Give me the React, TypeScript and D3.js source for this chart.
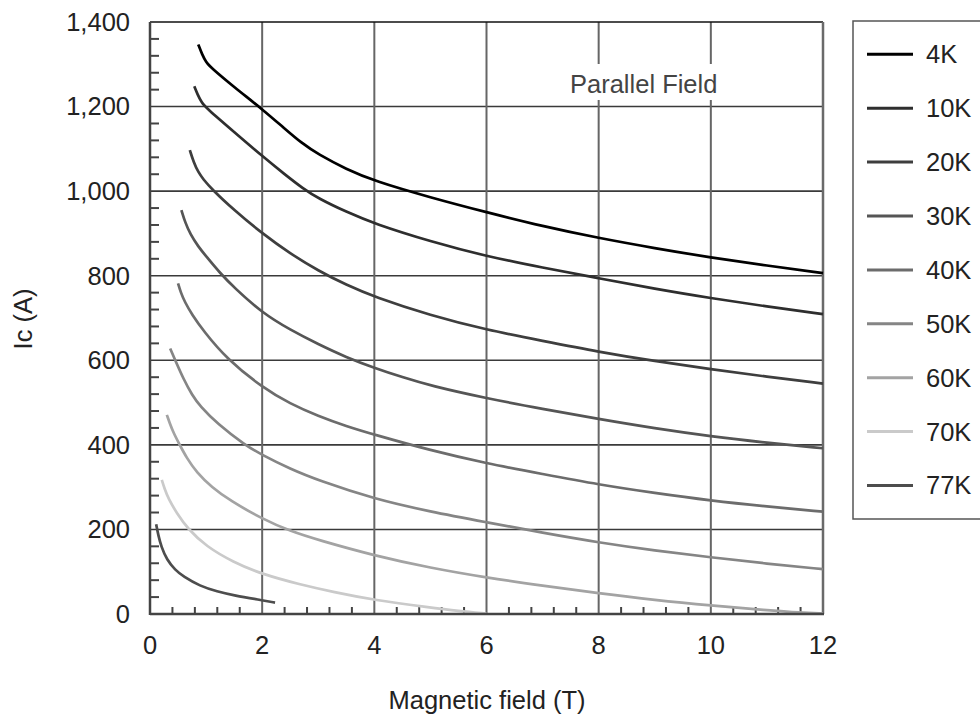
import React from "react";
import * as d3 from "d3";

const seriesNames = ["4K", "10K", "20K", "30K", "40K", "50K", "60K", "70K", "77K"];
const seriesColors = ["#000000", "#2e2e2e", "#3e3e3e", "#555555", "#6c6c6c", "#858585", "#a3a3a3", "#cacaca", "#4d4d4d"];

const s4K: [number, number][] = [[0.86, 1347], [0.93, 1323], [1.0, 1305], [1.08, 1293], [1.5, 1246], [2, 1194], [2.4, 1148], [2.7, 1114], [3, 1087], [3.5, 1052], [4, 1024], [5, 985], [6, 950], [7, 917], [8, 889], [9, 865], [10, 843], [11, 824], [12, 806]];
const s10K: [number, number][] = [[0.79, 1248], [0.85, 1228], [0.92, 1210], [1.0, 1197], [1.5, 1140], [2, 1083], [2.4, 1040], [2.73, 1006], [3, 983], [3.5, 951], [4, 923], [5, 881], [6, 846], [7, 819], [8, 794], [9, 769], [10, 747], [11, 727], [12, 709]];
const s20K: [number, number][] = [[0.71, 1097], [0.78, 1068], [0.86, 1045], [0.95, 1028], [1.1, 1005], [1.5, 955], [2, 900], [2.5, 852], [3, 812], [3.5, 778], [4, 750], [5, 706], [6, 672], [7, 646], [8, 620], [9, 598], [10, 579], [11, 561], [12, 545]];
const s30K: [number, number][] = [[0.56, 955], [0.63, 925], [0.72, 898], [0.86, 869], [1.0, 846], [1.25, 806], [1.5, 772], [2, 712], [2.5, 672], [3, 638], [3.5, 607], [4, 582], [4.5, 560], [5, 540], [6, 510], [7, 485], [8, 461], [9, 439], [10, 420], [11, 405], [12, 392]];
const s40K: [number, number][] = [[0.5, 782], [0.55, 760], [0.62, 738], [0.75, 708], [0.95, 670], [1.37, 603], [2, 536], [2.5, 497], [3, 468], [3.5, 444], [4, 424], [5, 387], [6, 356], [7, 331], [8, 306], [9, 286], [10, 268], [11, 254], [12, 242]];
const s50K: [number, number][] = [[0.36, 628], [0.45, 600], [0.6, 555], [0.75, 518], [0.89, 492], [1.2, 450], [1.69, 400], [2, 376], [2.5, 343], [3, 316], [4, 272], [5, 242], [6, 217], [7, 192], [8, 169], [9, 150], [10, 134], [11, 119], [12, 106]];
const s60K: [number, number][] = [[0.3, 471], [0.35, 452], [0.42, 428], [0.53, 400], [0.65, 370], [0.83, 335], [1.1, 300], [1.43, 268], [2, 225], [2.5, 196], [3, 175], [4, 138], [5, 109], [6, 86], [7, 67], [8, 49], [9, 33], [10, 20], [11, 9], [11.6, 3], [12, 1]];
const s70K: [number, number][] = [[0.21, 317], [0.26, 296], [0.33, 272], [0.48, 238], [0.67, 202], [1.0, 160], [1.48, 123], [2, 94], [2.67, 70], [3.27, 52], [4, 33], [5, 15], [5.5, 7], [6, 1]];
const s77K: [number, number][] = [[0.11, 212], [0.15, 185], [0.2, 160], [0.3, 128], [0.45, 104], [0.59, 89], [0.89, 66], [1.2, 53], [1.49, 44], [2.02, 32], [2.23, 27]];

const seriesData = [s4K, s10K, s20K, s30K, s40K, s50K, s60K, s70K, s77K];

const xTicks = [0, 2, 4, 6, 8, 10, 12];
const yTicks = [0, 200, 400, 600, 800, 1000, 1200, 1400];

const FONT = "'Liberation Sans', Arial, Helvetica, sans-serif";

export default function App() {
  const x = d3.scaleLinear().domain([0, 12]).range([150, 823]);
  const y = d3.scaleLinear().domain([0, 1400]).range([614, 22]);
  const line = d3
    .line<[number, number]>()
    .x((d) => x(d[0]))
    .y((d) => y(d[1]))
    .curve(d3.curveBasis);

  const yMinor = d3.range(40, 1400, 40).filter((v) => v % 200 !== 0);
  const xMinor = d3.range(1, 30).map((i) => i * 0.4).filter((v) => Math.abs(v / 2 - Math.round(v / 2)) > 0.01);
  const fmt = d3.format(",");

  return (
    <svg width={980} height={722} style={{ position: "absolute", left: 0, top: 0, background: "#fff" }} fontFamily={FONT}>
      <rect x={0} y={0} width={980} height={722} fill="#fff" />
      {yTicks.slice(1, -1).map((v) => (
        <line key={"hg" + v} x1={x(0)} x2={x(12)} y1={y(v)} y2={y(v)} stroke="#3a3a3a" strokeWidth={1.6} />
      ))}
      {xTicks.slice(1, -1).map((v) => (
        <line key={"vg" + v} x1={x(v)} x2={x(v)} y1={y(0)} y2={y(1400)} stroke="#666" strokeWidth={2} />
      ))}
      <rect x={564} y={64} width={168} height={36} fill="#fff" />
      <text x={570} y={93} fontSize={25.5} fill="#444">Parallel Field</text>
      {yMinor.map((v) => (
        <line key={"ym" + v} x1={x(0)} x2={x(0) + 9} y1={y(v)} y2={y(v)} stroke="#444" strokeWidth={2} />
      ))}
      {xMinor.map((v) => (
        <line key={"xm" + v} x1={x(v)} x2={x(v)} y1={y(0)} y2={y(0) - 7} stroke="#444" strokeWidth={2} />
      ))}
      <line x1={x(0)} x2={x(12)} y1={y(1400)} y2={y(1400)} stroke="#111" strokeWidth={1.6} />
      <line x1={x(12)} x2={x(12)} y1={y(0)} y2={y(1400)} stroke="#6a6a6a" strokeWidth={2.5} />
      {seriesData.map((d, i) => (
        <path key={"s" + i} d={line(d) || ""} fill="none" stroke={seriesColors[i]} strokeWidth={2.7} strokeLinecap="butt" />
      ))}
      <line x1={x(0)} x2={x(0)} y1={y(0) + 1} y2={y(1400)} stroke="#444" strokeWidth={2.5} />
      <line x1={x(0)} x2={x(12) + 1} y1={y(0)} y2={y(0)} stroke="#444" strokeWidth={2.5} />
      {yTicks.map((v) => (
        <text key={"yl" + v} x={130} y={y(v)} dy="0.35em" textAnchor="end" fontSize={25.5} fill="#222">
          {fmt(v)}
        </text>
      ))}
      {xTicks.map((v) => (
        <text key={"xl" + v} x={x(v)} y={654} textAnchor="middle" fontSize={25.5} fill="#222">
          {v}
        </text>
      ))}
      <text x={487} y={709} textAnchor="middle" fontSize={25.5} fill="#222">Magnetic field (T)</text>
      <text transform="translate(32,319) rotate(-90)" textAnchor="middle" fontSize={25.5} fill="#222">Ic (A)</text>
      <rect x={853} y={21} width={140} height={498} fill="#fff" stroke="#555" strokeWidth={1.5} />
      {seriesNames.map((n, i) => {
        const cy = 54.3 + i * 53.9;
        return (
          <g key={"lg" + n}>
            <line x1={867} x2={913} y1={cy} y2={cy} stroke={seriesColors[i]} strokeWidth={3} />
            <text x={926} y={cy} dy="0.35em" fontSize={25.5} fill="#222">{n}</text>
          </g>
        );
      })}
    </svg>
  );
}
